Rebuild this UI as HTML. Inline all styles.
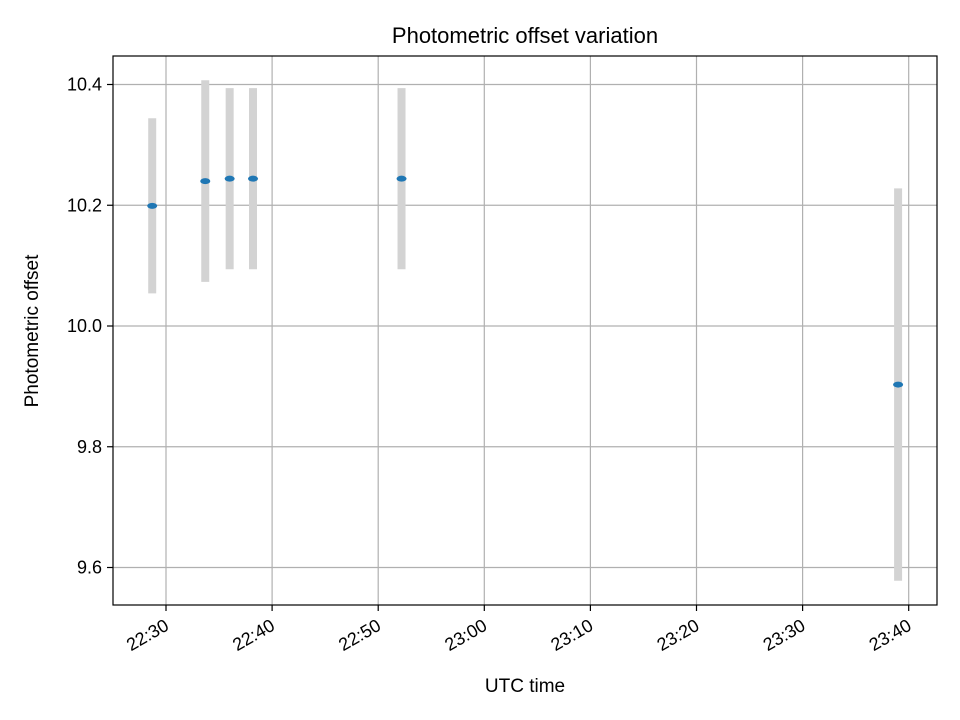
<!DOCTYPE html>
<html><head><meta charset="utf-8"><style>
html,body{margin:0;padding:0;background:#fff;}
svg{display:block;font-family:"Liberation Sans","DejaVu Sans",sans-serif;}
</style></head><body>
<svg id="chart" width="960" height="720" viewBox="0 0 960 720">
<rect x="0" y="0" width="960" height="720" fill="#fff"/>
<text x="525" y="43" text-anchor="middle" font-size="22" fill="#000">Photometric offset variation</text>
<g id="grid"></g>
<g id="bars"></g>
<g id="points"></g>
<rect x="113" y="56" width="824" height="549" fill="none" stroke="#000" stroke-width="1.2"/>
<g id="xticks"></g>
<g id="yticks"></g>
<text x="525" y="692" text-anchor="middle" font-size="19">UTC time</text>
<text x="38" y="331" text-anchor="middle" font-size="19" transform="rotate(-90 38 331)">Photometric offset</text>
</svg>
<script>
// minutes after 22:00 UTC
const times = [28.7, 33.7, 36.0, 38.2, 52.2, 99.0];
const offsets = [10.199, 10.240, 10.244, 10.244, 10.244, 9.903];
const errors = [0.145, 0.167, 0.150, 0.150, 0.150, 0.325];
const xTickMinutes = [30, 40, 50, 60, 70, 80, 90, 100];
const xTickLabels = ["22:30","22:40","22:50","23:00","23:10","23:20","23:30","23:40"];
const yTickValues = [9.6, 9.8, 10.0, 10.2, 10.4];
const yTickLabels = ["9.6","9.8","10.0","10.2","10.4"];

const NS = "http://www.w3.org/2000/svg";
const xs = m => 166 + (m - 30) * 10.61;
const ys = v => 326 - (v - 10.0) * 603.75;
function mk(tag, attrs, parent){const e=document.createElementNS(NS,tag);for(const k in attrs)e.setAttribute(k,attrs[k]);parent.appendChild(e);return e;}
const grid=document.getElementById('grid'),bars=document.getElementById('bars'),pts=document.getElementById('points');
const xt=document.getElementById('xticks'),yt=document.getElementById('yticks');

xTickMinutes.forEach((m,i)=>{
  const x=xs(m);
  const g=mk('line',{x1:x,x2:x,y1:56,y2:605,stroke:'#b0b0b0','stroke-width':1.2},grid);
  
  
  const t=mk('line',{x1:x,x2:x,y1:605,y2:611,stroke:'#000','stroke-width':1.2},xt);
  
  
  const l=mk('text',{x:x+4,y:629,'text-anchor':'end','font-size':18,transform:`rotate(-30 ${x+4} 629)`},xt);
  l.textContent=xTickLabels[i];
  
  
});
yTickValues.forEach((v,i)=>{
  const y=ys(v);
  const g=mk('line',{x1:113,x2:937,y1:y,y2:y,stroke:'#b0b0b0','stroke-width':1.2},grid);
  
  
  const t=mk('line',{x1:107,x2:113,y1:y,y2:y,stroke:'#000','stroke-width':1.2},yt);
  
  
  const l=mk('text',{x:102,y:y+6,'text-anchor':'end','font-size':18},yt);
  l.textContent=yTickLabels[i];
  
  
});
times.forEach((m,i)=>{
  const x=xs(m);
  const b=mk('line',{x1:x,x2:x,y1:ys(offsets[i]+errors[i]),y2:ys(offsets[i]-errors[i]),stroke:'#d3d3d3','stroke-width':8},bars);
  
  
  const p=mk('ellipse',{cx:x,cy:ys(offsets[i]),rx:5,ry:3,fill:'#1f77b4'},pts);
  
  
});
</script>
</body></html>
